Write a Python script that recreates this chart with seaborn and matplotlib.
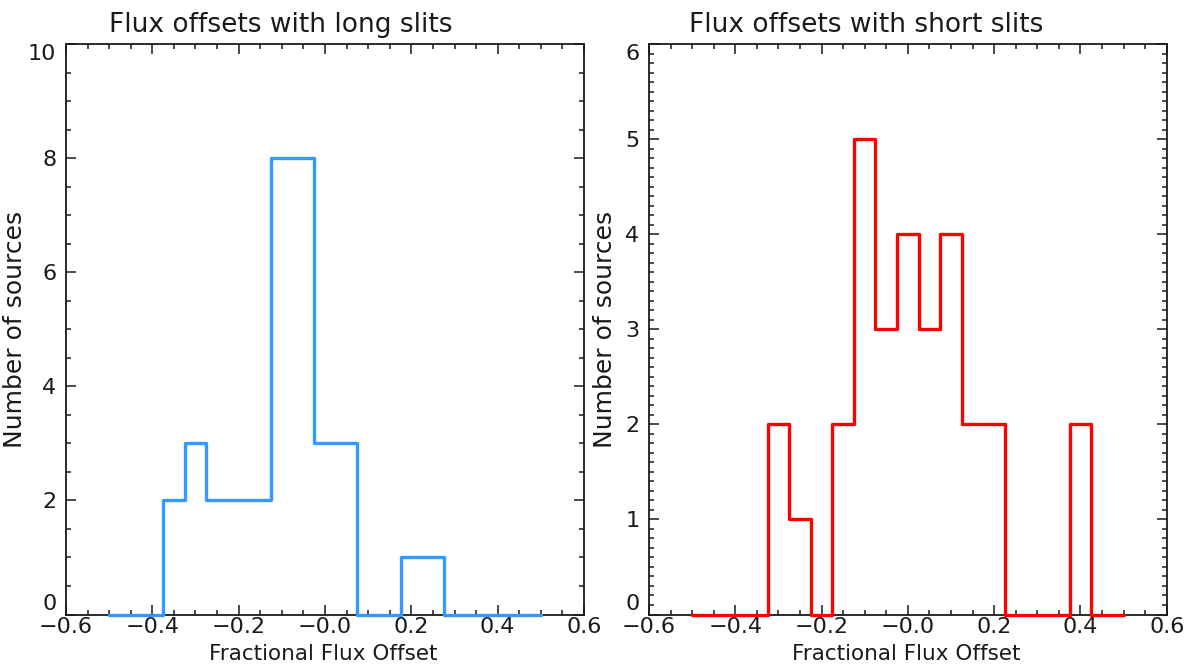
import numpy as np
import pandas as pd
import matplotlib
matplotlib.use("Agg")
import matplotlib.pyplot as plt
import seaborn as sns
from matplotlib.ticker import FixedLocator, FixedFormatter, MultipleLocator

# ---- data ----
bin_centers = [-0.50, -0.45, -0.40, -0.35, -0.30, -0.25, -0.20, -0.15, -0.10, -0.05,
               0.00, 0.05, 0.10, 0.15, 0.20, 0.25, 0.30, 0.35, 0.40, 0.45, 0.50]
long_counts = [0, 0, 0, 2, 3, 2, 2, 2, 8, 8, 3, 3, 0, 0, 1, 1, 0, 0, 0, 0, 0]
short_counts = [0, 0, 0, 0, 2, 1, 0, 2, 5, 3, 4, 3, 4, 2, 2, 0, 0, 0, 2, 0, 0]

x_ticks = [-0.6, -0.4, -0.2, 0.0, 0.2, 0.4, 0.6]
x_tick_labels = ["\u22120.6", "\u22120.4", "\u22120.2", "\u22120.0", "0.2", "0.4", "0.6"]
long_y_ticks = [0, 2, 4, 6, 8, 10]
short_y_ticks = [0, 1, 2, 3, 4, 5, 6]
titles = ["Flux offsets with long slits", "Flux offsets with short slits"]
x_label = "Fractional Flux Offset"
y_label = "Number of sources"
colors = ["#3399ff", "#ff0000"]

sns.set_style("ticks")
plt.rcParams["font.family"] = ["DejaVu Sans"]

W, H = 1188, 667
fig = plt.figure(figsize=(W / 100, H / 100), dpi=100)

def px_axes(left, right, top, bottom):
    return fig.add_axes([left / W, (H - bottom) / H, (right - left) / W, (bottom - top) / H])

AX_TOP, AX_BOT = 44.3, 614.5
ax_l = px_axes(66, 584, AX_TOP, AX_BOT)
ax_r = px_axes(649, 1166.7, AX_TOP, AX_BOT)
ax_h = AX_BOT - AX_TOP

text_color = "#1a1a1a"
panels = [
    (ax_l, long_counts, colors[0], long_y_ticks, 0.5, titles[0], 0.415, -0.075),
    (ax_r, short_counts, colors[1], short_y_ticks, 0.1, titles[1], 0.419, -0.062),
]

for ax, counts, col, yt, yminor, title, tx, ylx in panels:
    df = pd.DataFrame({"offset": bin_centers, "count": counts})
    sns.lineplot(data=df, x="offset", y="count", ax=ax, color=col, lw=2.4,
                 drawstyle="steps-mid", estimator=None, clip_on=False, zorder=5)
    ax.set_xlim(x_ticks[0], x_ticks[-1])
    ax.set_ylim(yt[0], yt[-1])
    ax.xaxis.set_major_locator(FixedLocator(x_ticks))
    ax.xaxis.set_major_formatter(FixedFormatter(x_tick_labels))
    ax.xaxis.set_minor_locator(MultipleLocator(0.05))
    ax.yaxis.set_major_locator(FixedLocator(yt))
    ax.yaxis.set_major_formatter(FixedFormatter([str(v) for v in yt]))
    ax.yaxis.set_minor_locator(MultipleLocator(yminor))
    for s in ax.spines.values():
        s.set_visible(True)
        s.set_linewidth(1.3)
        s.set_color(text_color)
    ax.tick_params(which="both", direction="in", top=True, right=True,
                   color=text_color, width=1.1, labelcolor=text_color, labelsize=16)
    ax.tick_params(which="major", length=7.5)
    ax.tick_params(which="minor", length=3.8)
    ax.tick_params(axis="x", which="major", pad=2)
    ax.tick_params(axis="y", which="major", pad=7)
    ylabs = ax.get_yticklabels()
    ylabs[0].set_va("bottom")
    ylabs[-1].set_va("top")
    ax.set_xlabel(x_label, fontsize=15.5, color=text_color)
    ax.xaxis.set_label_coords(0.496, -(643.5 - AX_BOT) / ax_h)
    ax.xaxis.label.set_va("top")
    ax.set_ylabel(y_label, fontsize=18, color=text_color)
    ax.yaxis.set_label_coords(ylx, 0.5)
    ax.text(tx, 1 + 12.5 / ax_h, title, transform=ax.transAxes, ha="center", va="baseline",
            fontsize=19, color=text_color)

fig.savefig("out.png", dpi=100)
